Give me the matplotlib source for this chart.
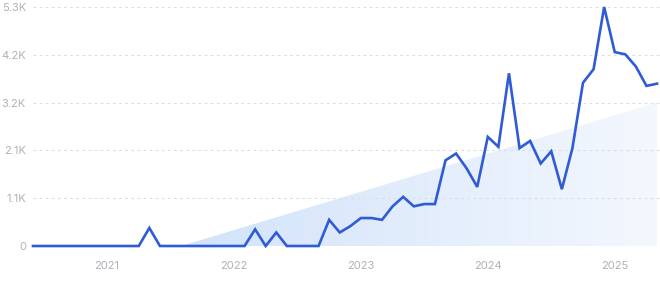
import numpy as np
import matplotlib
matplotlib.use("Agg")
import matplotlib.pyplot as plt
from matplotlib.patches import Polygon

# monthly values, Jun 2020 .. May 2025
values = [0, 0, 0, 0, 0, 0, 0, 0, 0, 0, 0,          # Jun 2020 - Apr 2021
          400,                                        # May 2021
          0, 0, 0, 0, 0, 0, 0, 0, 0,                  # Jun 2021 - Feb 2022
          370, 0, 300,                                # Mar - May 2022
          0, 0, 0, 0,                                 # Jun - Sep 2022
          580, 300, 440, 620, 620, 580, 880, 1090,    # Oct 2022 - May 2023
          880, 930, 930, 1900, 2050, 1720, 1310,      # Jun - Dec 2023
          2420, 2200, 3830, 2170, 2330, 1830, 2100,   # Jan - Jul 2024
          1260, 2170, 3620, 3920, 5300, 4300,         # Aug 2024 - Jan 2025
          4250, 3980, 3550, 3600]                     # Feb - May 2025

year_labels = ['2021', '2022', '2023', '2024', '2025']
year_index = [7, 19, 31, 43, 55]                      # January of each year
y_ticks = [0, 1060, 2120, 3180, 4240, 5300]
y_labels = ['0', '1.1K', '2.1K', '3.2K', '4.2K', '5.3K']

# trend (shaded wedge): start / end month index and value
trend_x = [14, 59]
trend_y = [0, 3180]

plt.rcParams['font.family'] = ['Inter', 'DejaVu Sans']

fig = plt.figure(figsize=(6.6, 2.84), dpi=100)
ax = fig.add_axes([33 / 660, 38 / 284, 627 / 660, 239 / 284])

x = np.arange(len(values))

# gradient wedge (darker on the left, fading to the right)
grad = np.linspace(0, 1, 256)
c0 = np.array([0.82, 0.89, 0.98])
c1 = np.array([0.955, 0.97, 0.995])
img = np.ones((2, 256, 4))
img[:, :, :3] = c0 + (c1 - c0) * grad[:, None]
im = ax.imshow(img, extent=[trend_x[0], trend_x[1], 0, trend_y[1]],
               aspect='auto', origin='lower', zorder=1)
wedge = Polygon([(trend_x[0], trend_y[0]), (trend_x[1], trend_y[1]),
                 (trend_x[1], 0)], closed=True, transform=ax.transData)
im.set_clip_path(wedge)
ax.set_xlim(0, 59.28)
ax.set_ylim(0, 5300)

ax.plot(x, values, color='#2f5bd6', linewidth=1.9, zorder=3,
        solid_joinstyle='miter', clip_on=False)

# grid
for t in y_ticks[1:]:
    ax.axhline(t, color='#dddee3', linewidth=0.8, linestyle=(0, (2.5, 3)), zorder=2)
ax.axhline(0, color='#e2eaf7', linewidth=0.8, zorder=2)

ax.set_yticks(y_ticks)
ax.set_yticklabels(y_labels)
ax.set_xticks(year_index)
ax.set_xticklabels(year_labels)
ax.tick_params(axis='both', length=0, labelsize=8, labelcolor='#b0b1b8')
ax.tick_params(axis='y', pad=5)
ax.tick_params(axis='x', pad=11)
for s in ax.spines.values():
    s.set_visible(False)

fig.savefig('out.png', dpi=100)
